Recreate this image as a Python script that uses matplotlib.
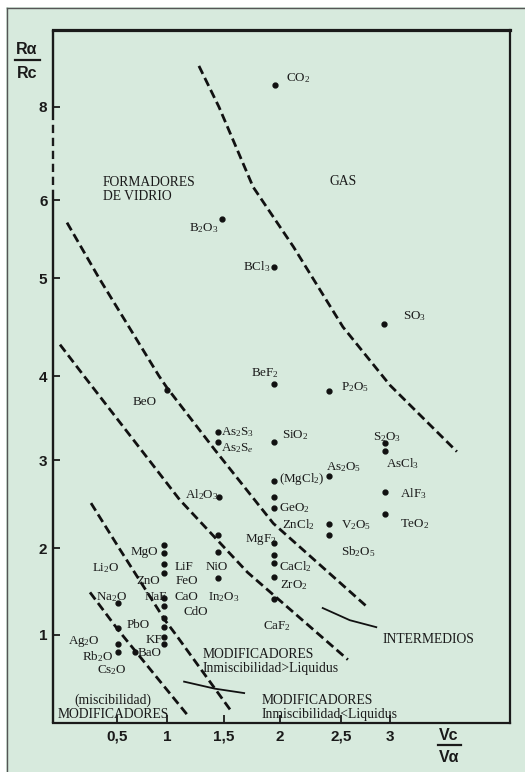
import numpy as np
import matplotlib
matplotlib.use('Agg')
import matplotlib.pyplot as plt
from matplotlib.lines import Line2D

plt.rcParams['font.family'] = ['Liberation Serif', 'DejaVu Serif']
plt.rcParams['mathtext.fontset'] = 'custom'
plt.rcParams['mathtext.rm'] = 'Liberation Serif'
plt.rcParams['mathtext.it'] = 'Liberation Serif:italic'

# puntos (Vc/Va, Ra/Rc)
nombres = ['CO$_2$', 'SO$_3$', 'B$_2$O$_3$', 'BCl$_3$', 'BeF$_2$', 'P$_2$O$_5$', 'BeO',
           'As$_2$S$_3$', 'As$_2$S$_e$', 'SiO$_2$', '(MgCl$_2$)', '', 'GeO$_2$', 'As$_2$O$_5$',
           'V$_2$O$_5$', 'Sb$_2$O$_5$', 'MgF$_2$', '', 'CaCl$_2$', 'ZrO$_2$', 'CaF$_2$',
           'S$_2$O$_3$', 'AsCl$_3$', 'AlF$_3$', 'TeO$_2$', 'Al$_2$O$_3$', '', '', 'NiO',
           '', 'MgO', 'LiF', 'ZnO', 'NaF', '', '', 'PbO', 'KF', '',
           'Na$_2$O', '', 'Ag$_2$O', 'Rb$_2$O', 'BaO']
vc_va = [1.955, 2.94, 1.48, 1.946, 1.946, 2.40, 1.0,
         1.45, 1.45, 1.946, 1.946, 1.946, 1.946, 2.40,
         2.40, 2.40, 1.946, 1.946, 1.946, 1.946, 1.946,
         2.95, 2.95, 2.95, 2.95, 1.46, 1.45, 1.45, 1.45,
         0.97, 0.97, 0.97, 0.97, 0.97, 0.97, 0.97, 0.97, 0.97, 0.97,
         0.51, 0.51, 0.51, 0.51, 0.68]
ra_rc = [8.47, 4.53, 5.76, 5.14, 3.91, 3.82, 3.83,
         3.33, 3.21, 3.21, 2.76, 2.58, 2.45, 2.82,
         2.27, 2.15, 2.06, 1.92, 1.83, 1.67, 1.41,
         3.20, 3.11, 2.64, 2.39, 2.58, 2.15, 1.95, 1.66,
         2.03, 1.94, 1.82, 1.71, 1.43, 1.33, 1.20, 1.09, 0.98, 0.90,
         1.37, 1.08, 0.90, 0.81, 0.81]

# rotulos sin punto visible
extra_nombres = ['FeO', 'CaO', 'CdO', 'In$_2$O$_3$', 'Li$_2$O', 'Cs$_2$O', 'ZnCl$_2$']
extra_x = [1.175, 1.17, 1.25, 1.50, 0.39, 0.45, 2.15]
extra_y = [1.62, 1.44, 1.26, 1.44, 1.77, 0.60, 2.27]

# curvas limite
lineas_trazos = [
    ([1.28, 1.456, 1.76, 2.11, 2.52, 3.0, 3.68], [8.88, 8.0, 6.28, 5.40, 4.5, 3.89, 3.10]),
    ([0.0, 0.32, 0.92, 1.0, 1.42, 1.94, 2.78], [5.71, 5.0, 4.0, 3.86, 3.12, 2.28, 1.31]),
    ([-0.07, 0.17, 0.82, 1.11, 1.71, 2.57], [4.32, 4.0, 3.0, 2.55, 1.72, 0.72]),
    ([0.24, 0.52, 0.98, 1.08, 1.57], [2.51, 2.0, 1.17, 1.0, 0.125]),
    ([0.23, 0.51, 1.18], [1.49, 1.06, 0.09]),
]
lineas_llenas = [
    ([2.35, 2.59, 2.86], [1.31, 1.17, 1.09]),
    ([1.15, 1.42, 1.68], [0.47, 0.39, 0.34]),
]

x_ticks = [0.5, 1, 1.5, 2, 2.5, 3]
x_labels = ['0,5', '1', '1,5', '2', '2,5', '3']
y_ticks = [1, 2, 3, 4, 5, 6, 8]
y_labels = ['1', '2', '3', '4', '5', '6', '8']

# desplazamiento de rotulos (px) y alineacion
offsets = {
    'CO$_2$': (11, 7, 'left'), 'SO$_3$': (19, 8, 'left'), 'B$_2$O$_3$': (-3, -9, 'right'),
    'BCl$_3$': (-4, 0, 'right'), 'BeF$_2$': (-9, 10, 'center'), 'P$_2$O$_5$': (12, 4, 'left'),
    'BeO': (-10, -12, 'right'), 'As$_2$S$_3$': (3, 0, 'left'), 'As$_2$S$_e$': (3, -6, 'left'),
    'SiO$_2$': (8, 7, 'left'), '(MgCl$_2$)': (5, 2, 'left'), 'GeO$_2$': (5, 0, 'left'),
    'As$_2$O$_5$': (-3, 9, 'left'), 'V$_2$O$_5$': (12, -1, 'left'), 'Sb$_2$O$_5$': (12, -17, 'left'),
    'MgF$_2$': (2, 3, 'right'), 'CaCl$_2$': (5, -4, 'left'), 'ZrO$_2$': (6, -8, 'left'),
    'CaF$_2$': (3, -27, 'center'), 'S$_2$O$_3$': (2, 6, 'center'), 'AsCl$_3$': (1, -13, 'left'),
    'AlF$_3$': (15, -2, 'left'), 'TeO$_2$': (15, -10, 'left'), 'Al$_2$O$_3$': (-1, 2, 'right'),
    'NiO': (-2, 11, 'center'), 'MgO': (-6, 1, 'right'), 'LiF': (11, -3, 'left'),
    'ZnO': (-4, -8, 'right'), 'NaF': (-19, 1, 'left'), 'PbO': (-14, 2, 'right'),
    'KF': (-2, -3, 'right'), 'Na$_2$O': (-22, 6, 'left'), 'Ag$_2$O': (-18, 2, 'right'),
    'Rb$_2$O': (-5, -5, 'right'), 'BaO': (3, -1, 'left'),
}


def escala_tramos(vals, pos):
    vals = np.asarray(vals, float)
    pos = np.asarray(pos, float)
    s0 = (pos[1] - pos[0]) / (vals[1] - vals[0])
    s1 = (pos[-1] - pos[-2]) / (vals[-1] - vals[-2])
    v = np.concatenate([[vals[0] - 100], vals, [vals[-1] + 100]])
    p = np.concatenate([[pos[0] - 100 * s0], pos, [pos[-1] + 100 * s1]])
    return (lambda a: np.interp(a, v, p)), (lambda a: np.interp(a, p, v))


verde = '#d7eadd'
tinta = '#1a1a1a'
fig = plt.figure(figsize=(5.25, 7.72), dpi=100)
fig.patch.set_facecolor(verde)
# margen blanco y filete arriba/izquierda del escaneo
fig.add_artist(plt.Rectangle((0, 0), 6 / 525, 1, transform=fig.transFigure,
                             facecolor='white', edgecolor='none'))
fig.add_artist(plt.Rectangle((0, 1 - 7 / 772), 1, 7 / 772, transform=fig.transFigure,
                             facecolor='white', edgecolor='none'))
fig.add_artist(Line2D([6.5 / 525, 6.5 / 525], [0, 1 - 7.5 / 772], transform=fig.transFigure,
                      color='#555555', lw=1.0))
fig.add_artist(Line2D([6.5 / 525, 1], [1 - 7.5 / 772] * 2, transform=fig.transFigure,
                      color='#555555', lw=1.0))

ax = fig.add_axes([53 / 525, 49 / 772, 457 / 525, 693 / 772])
ax.set_facecolor('none')

# el dibujo original no es lineal: escala por tramos segun las marcas
ax.set_xscale('function', functions=escala_tramos([-0.14, 0.5, 1, 1.5, 2, 2.5, 3, 4.22],
                                                  [53, 117, 167, 224, 280, 341, 390, 510]))
ax.set_yscale('function', functions=escala_tramos([0, 1, 2, 3, 4, 5, 6, 8, 9.65],
                                                  [0, 88, 175, 263, 347, 445, 523, 616, 693]))
ax.set_xlim(-0.14, 4.22)
ax.set_ylim(0, 9.65)

for xs, ys in lineas_trazos:
    ax.plot(xs, ys, color='#111111', lw=2.0, linestyle=(0, (3.2, 1.6)), solid_capstyle='butt')
for xs, ys in lineas_llenas:
    ax.plot(xs, ys, color='#111111', lw=1.3)

ax.plot(vc_va, ra_rc, 'o', color='#111111', ms=3.5, zorder=3)

for n, x, y in zip(nombres, vc_va, ra_rc):
    if not n:
        continue
    dx, dy, ha = offsets[n]
    ax.annotate(n, (x, y), xytext=(dx, dy), textcoords='offset pixels',
                ha=ha, va='center', fontsize=9.4, color=tinta)
for n, x, y in zip(extra_nombres, extra_x, extra_y):
    ax.text(x, y, n, ha='center', va='center', fontsize=9.4, color=tinta)

# zonas
zona = dict(fontsize=9.8, color=tinta, transform=ax.transAxes, linespacing=1.05)
ax.text(0.109, 0.770, 'FORMADORES\nDE VIDRIO', ha='left', va='center', **zona)
ax.text(0.606, 0.781, 'GAS', ha='left', va='center', **zona)
ax.text(0.722, 0.120, 'INTERMEDIOS', ha='left', va='center', **zona)
ax.text(0.328, 0.0887, 'MODIFICADORES\nInmiscibilidad>Liquidus', ha='left', va='center', **zona)
ax.text(0.457, 0.0224, 'MODIFICADORES\nInmiscibilidad<Liquidus', ha='left', va='center', **zona)
ax.text(0.131, 0.0224, '(miscibilidad)\nMODIFICADORES', ha='center', va='center',
        multialignment='center', **zona)

# ejes
ax.spines['left'].set_visible(False)
for s in ['top', 'right', 'bottom']:
    ax.spines[s].set_linewidth(1.6)
    ax.spines[s].set_color(tinta)
ax.spines['top'].set_linewidth(2.3)
yt = ax.get_yaxis_transform()
ax.plot([0, 0], [0, 6.05], transform=yt, color=tinta, lw=1.7, clip_on=False,
        solid_capstyle='butt')
ax.plot([0, 0], [6.05, 7.9], transform=yt, color=tinta, lw=1.7, clip_on=False,
        linestyle=(0, (3.5, 2.0)))
ax.plot([0, 0], [7.9, 9.65], transform=yt, color=tinta, lw=1.7, clip_on=False,
        solid_capstyle='butt')

marca = dict(family='Liberation Sans', weight='bold', size=11)
ax.set_xticks(x_ticks, labels=x_labels, fontdict=marca)
ax.set_yticks(y_ticks, labels=y_labels, fontdict=marca)
ax.minorticks_off()
ax.tick_params(axis='x', direction='in', length=5.5, width=1.3, pad=5, colors=tinta)
ax.tick_params(axis='y', direction='in', length=5, width=1.3, pad=4, colors=tinta)

# rotulos de ejes como fracciones
et = dict(family='Liberation Sans', weight='bold', size=11.5, color=tinta,
          ha='center', va='center')
fig.text(27 / 525, 1 - 49 / 772, 'R\u03b1', **et)
fig.text(27 / 525, 1 - 73 / 772, 'Rc', **et)
fig.add_artist(Line2D([15 / 525, 40 / 525], [1 - 60 / 772] * 2, transform=fig.transFigure,
                      color=tinta, lw=1.6))
fig.text(449 / 525, 1 - 735 / 772, 'Vc', **et)
fig.text(449 / 525, 1 - 758 / 772, 'V\u03b1', **et)
fig.add_artist(Line2D([438 / 525, 461 / 525], [1 - 745 / 772] * 2, transform=fig.transFigure,
                      color=tinta, lw=1.6))

fig.savefig('out.png', dpi=100, facecolor=fig.get_facecolor())
